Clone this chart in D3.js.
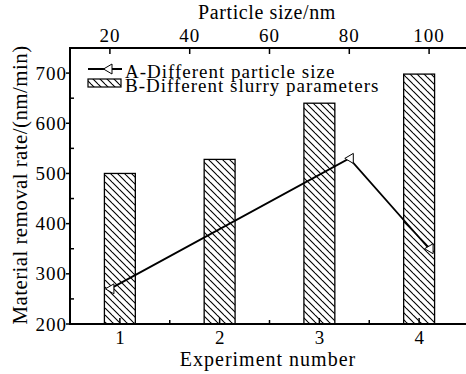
<!DOCTYPE html>
<html>
<head>
<meta charset="utf-8">
<script src="https://cdn.jsdelivr.net/npm/d3@7"></script>
<style>
  body { margin: 0; background: #fff; }
  svg text { font-family: "Liberation Serif", "Times New Roman", serif; fill: #000; }
</style>
</head>
<body>
<svg id="chart" width="466" height="374"></svg>
<script>
// Data
var experiments = [1, 2, 3, 4]
var slurryRates = [500, 528, 640, 698]        // B - bars
var particleSizes = [20, 80, 100]             // A - top axis (nm)
var particleRates = [270, 530, 350]           // A - line
var yTicks = [200, 300, 400, 500, 600, 700]
var yMinorTicks = [250, 350, 450, 550, 650, 750]
var topTicks = [20, 40, 60, 80, 100]
var xMinorTicks = [1.5, 2.5, 3.5]

var svg = d3.select('#chart')
var mLeft = 70, mRight = 469, mTop = 48, mBottom = 324

var x = d3.scaleLinear().domain([0.5, 4.5]).range([mLeft, mRight])
var xTop = d3.scaleLinear().domain([10, 110]).range([mLeft, mRight])
var y = d3.scaleLinear().domain([200, 750]).range([mBottom, mTop])

// hatch pattern for bars
var defs = svg.append('defs')
var pat = defs.append('pattern')
  .attr('id', 'hatch')
  .attr('patternUnits', 'userSpaceOnUse')
  .attr('width', 7).attr('height', 7)
pat.append('rect').attr('width', 7).attr('height', 7).attr('fill', '#fff')
pat.append('path')
  .attr('d', 'M-1,-1 L8,8 M-4,3 L0,7 M6,-1 L9,2')
  .attr('stroke', '#000').attr('stroke-width', 1.1)

// bars
var barW = 0.31
svg.append('g').selectAll('rect')
  .data(experiments)
  .join('rect')
  .attr('x', function (d) { return x(d - barW / 2) })
  .attr('width', x(barW) - x(0))
  .attr('y', function (d, i) { return y(slurryRates[i]) })
  .attr('height', function (d, i) { return mBottom - y(slurryRates[i]) })
  .attr('fill', 'url(#hatch)')
  .attr('stroke', '#000').attr('stroke-width', 1.3)

// line A
var pts = particleSizes.map(function (s, i) { return [xTop(s), y(particleRates[i])] })
svg.append('path')
  .attr('d', d3.line()(pts))
  .attr('fill', 'none').attr('stroke', '#000').attr('stroke-width', 1.8)

function triangle (g, cx, cy) {
  g.append('path')
    .attr('d', 'M' + (cx - 4.5) + ',' + cy + ' L' + (cx + 4) + ',' + (cy - 5) + ' L' + (cx + 4) + ',' + (cy + 5) + ' Z')
    .attr('fill', '#fff').attr('stroke', '#000').attr('stroke-width', 1)
}
var markers = svg.append('g')
pts.forEach(function (p) { triangle(markers, p[0], p[1]) })

// axes
var axisG = svg.append('g').attr('stroke', '#000')
axisG.append('line').attr('x1', mLeft).attr('x2', 466).attr('y1', mBottom).attr('y2', mBottom).attr('stroke-width', 2)
axisG.append('line').attr('x1', mLeft).attr('x2', 466).attr('y1', mTop).attr('y2', mTop).attr('stroke-width', 2)
axisG.append('line').attr('x1', mLeft).attr('x2', mLeft).attr('y1', mTop - 1).attr('y2', mBottom + 1).attr('stroke-width', 2)

var tickFont = '19px', titleFont = '20px'

// y ticks
axisG.selectAll('.ymaj').data(yTicks).join('line')
  .attr('x1', mLeft - 4).attr('x2', mLeft)
  .attr('y1', function (d) { return y(d) }).attr('y2', function (d) { return y(d) })
  .attr('stroke-width', 1.5)
axisG.selectAll('.ymin').data(yMinorTicks).join('line')
  .attr('x1', mLeft).attr('x2', mLeft + 4)
  .attr('y1', function (d) { return y(d) }).attr('y2', function (d) { return y(d) })
  .attr('stroke-width', 1.5)
svg.append('g').selectAll('text').data(yTicks).join('text')
  .attr('x', mLeft - 3).attr('y', function (d) { return y(d) + 6.5 })
  .attr('text-anchor', 'end').style('font-size', tickFont).style('letter-spacing', '1px')
  .text(function (d) { return d })

// bottom ticks
axisG.selectAll('.xmaj').data(experiments).join('line')
  .attr('x1', function (d) { return x(d) }).attr('x2', function (d) { return x(d) })
  .attr('y1', mBottom).attr('y2', mBottom - 6).attr('stroke-width', 1.5)
axisG.selectAll('.xmin').data(xMinorTicks).join('line')
  .attr('x1', function (d) { return x(d) }).attr('x2', function (d) { return x(d) })
  .attr('y1', mBottom).attr('y2', mBottom - 4).attr('stroke-width', 1.5)
svg.append('g').selectAll('text').data(experiments).join('text')
  .attr('x', function (d) { return x(d) }).attr('y', mBottom + 20)
  .attr('text-anchor', 'middle').style('font-size', tickFont)
  .text(function (d) { return d })

// top ticks
axisG.selectAll('.tmaj').data(topTicks).join('line')
  .attr('x1', function (d) { return xTop(d) }).attr('x2', function (d) { return xTop(d) })
  .attr('y1', mTop).attr('y2', mTop + 6).attr('stroke-width', 1.5)
svg.append('g').selectAll('text').data(topTicks).join('text')
  .attr('x', function (d) { return xTop(d) }).attr('y', mTop - 6)
  .attr('text-anchor', 'middle').style('font-size', tickFont).style('letter-spacing', '1px')
  .text(function (d) { return d })

// titles
svg.append('text').attr('x', 267).attr('y', 19).attr('text-anchor', 'middle')
  .style('font-size', titleFont).style('letter-spacing', '0.6px').text('Particle size/nm')
svg.append('text').attr('x', 268).attr('y', 366).attr('text-anchor', 'middle')
  .style('font-size', titleFont).style('letter-spacing', '1px').text('Experiment number')
svg.append('text')
  .attr('transform', 'translate(27,185) rotate(-90)')
  .attr('text-anchor', 'middle').style('font-size', '21px').style('letter-spacing', '0.4px')
  .text('Material removal rate/(nm/min)')

// legend
var leg = svg.append('g')
leg.append('line').attr('x1', 88).attr('x2', 122).attr('y1', 69).attr('y2', 69)
  .attr('stroke', '#000').attr('stroke-width', 1.8)
triangle(leg, 108, 69)
leg.append('text').attr('x', 125).attr('y', 78).style('font-size', tickFont).style('letter-spacing', '1px')
  .text('A-Different particle size')
leg.append('rect').attr('x', 88).attr('y', 79).attr('width', 33).attr('height', 8)
  .attr('fill', 'url(#hatch)').attr('stroke', '#000').attr('stroke-width', 1.2)
leg.append('text').attr('x', 125).attr('y', 92).style('font-size', tickFont).style('letter-spacing', '1px')
  .text('B-Different slurry parameters')
</script>
</body>
</html>
